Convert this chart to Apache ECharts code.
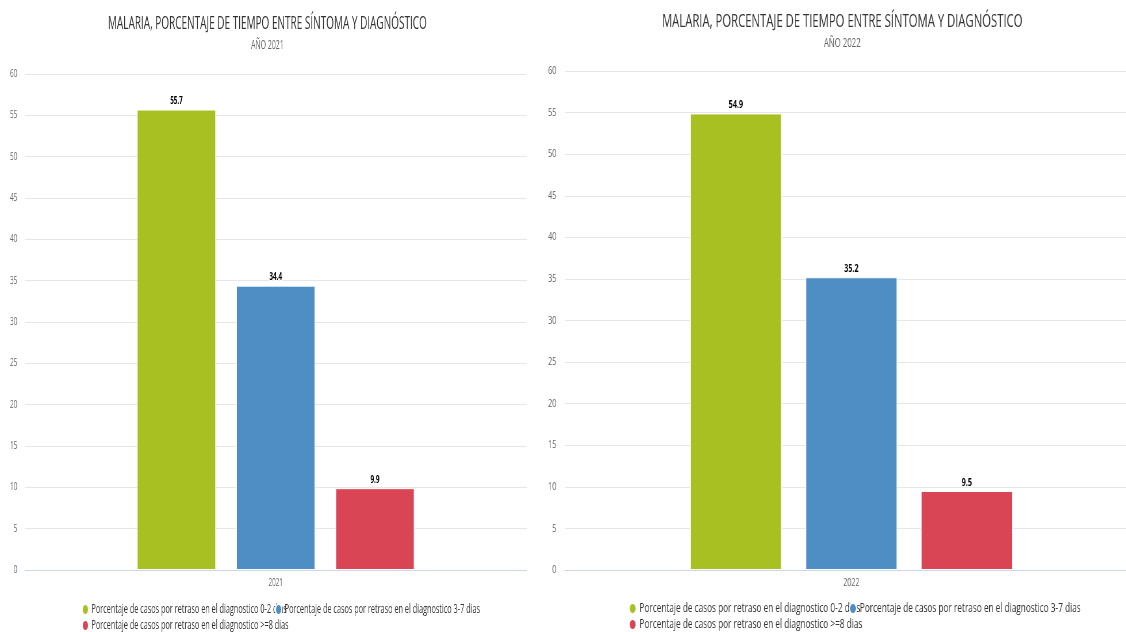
<!DOCTYPE html>
<html lang="es">
<head>
<meta charset="utf-8">
<title>Malaria, porcentaje de tiempo entre síntoma y diagnóstico</title>
<script src="https://cdn.jsdelivr.net/npm/echarts@6/dist/echarts.min.js"></script>
<style>
  html, body { margin: 0; padding: 0; background: #ffffff; }
  body { width: 1126px; height: 632px; overflow: hidden; position: relative; }
  .panel { position: absolute; top: 0; width: 930px; height: 632px; transform-origin: 0 0; }
  #chart2021 { left: 0; transform: scaleX(0.575); }
  #chart2022 { left: 540px; transform: scaleX(0.65); }
</style>
</head>
<body>
<div id="chart2021" class="panel"></div>
<div id="chart2022" class="panel"></div>
<script>
// Data
const chartTitle = 'MALARIA, PORCENTAJE DE TIEMPO ENTRE SÍNTOMA Y DIAGNÓSTICO';
const seriesNames = [
  'Porcentaje de casos por retraso en el diagnostico 0-2 dias',
  'Porcentaje de casos por retraso en el diagnostico 3-7 dias',
  'Porcentaje de casos por retraso en el diagnostico >=8 dias'
];
const seriesColors = ['#a9c023', '#4f8dc5', '#d94555'];
const years = ['2021', '2022'];
const values2021 = [55.7, 34.4, 9.9];
const values2022 = [54.9, 35.2, 9.5];
const yMin = 0;
const yMax = 60;
const yStep = 5;

const FONT = '"Open Sans", "DejaVu Sans", sans-serif';

function buildOption(year, values, L) {
  const legendSpots = [
    { left: L.legendLeft1, top: L.legendTop1 },
    { left: L.legendLeft2, top: L.legendTop1 },
    { left: L.legendLeft1, top: L.legendTop2 }
  ];
  return {
    animation: false,
    backgroundColor: '#ffffff',
    textStyle: { fontFamily: FONT },
    title: [
      {
        text: chartTitle,
        left: 'center',
        top: L.titleTop,
        textStyle: { fontFamily: FONT, fontSize: 17.4, fontWeight: 'normal', color: '#333333' }
      },
      {
        text: 'AÑO ' + year,
        left: 'center',
        top: L.subTop,
        textStyle: { fontFamily: FONT, fontSize: 12, fontWeight: 'normal', color: '#666666' }
      }
    ],
    legend: seriesNames.map((name, i) => ({
      data: [name],
      left: legendSpots[i].left,
      top: legendSpots[i].top,
      orient: 'horizontal',
      icon: 'circle',
      itemWidth: 11,
      itemHeight: 11,
      padding: 0,
      selectedMode: false,
      textStyle: { fontFamily: FONT, fontSize: 12.7, color: '#333333' }
    })),
    grid: {
      left: L.gridLeft,
      right: L.gridRight,
      top: L.gridTop,
      bottom: 632 - L.gridBottomY,
      containLabel: false
    },
    xAxis: {
      type: 'category',
      data: [year],
      axisLine: { show: true, lineStyle: { color: '#ccd6eb', width: 1 } },
      axisTick: { show: false },
      axisLabel: { margin: 7, fontFamily: FONT, fontSize: 11, color: '#666666' },
      splitLine: { show: false }
    },
    yAxis: {
      type: 'value',
      min: yMin,
      max: yMax,
      interval: yStep,
      axisLine: { show: false },
      axisTick: { show: false },
      axisLabel: { margin: 13, fontFamily: FONT, fontSize: 11, color: '#666666' },
      splitLine: { lineStyle: { color: '#e6e6e6', width: 1 } }
    },
    series: seriesNames.map((name, i) => ({
      name: name,
      type: 'bar',
      data: [values[i]],
      barWidth: L.barWidth,
      barGap: L.barGap,
      itemStyle: { color: seriesColors[i], borderColor: '#ffffff', borderWidth: 1 },
      label: {
        show: true,
        position: 'top',
        distance: 3,
        fontFamily: FONT,
        fontSize: 11,
        fontWeight: 'bold',
        color: '#000000',
        textBorderColor: '#ffffff',
        textBorderWidth: 2,
        formatter: (p) => p.value.toFixed(1)
      }
    }))
  };
}

const layout2021 = {
  titleTop: 11, subTop: 35,
  gridLeft: 43, gridRight: 14, gridTop: 74, gridBottomY: 570,
  barWidth: 137, barGap: '26%',
  legendLeft1: 142, legendLeft2: 478, legendTop1: 603, legendTop2: 619
};
const layout2022 = {
  titleTop: 9, subTop: 33,
  gridLeft: 38, gridRight: 10, gridTop: 71, gridBottomY: 570,
  barWidth: 141, barGap: '26%',
  legendLeft1: 136, legendLeft2: 475, legendTop1: 602, legendTop2: 618
};

const c1 = echarts.init(document.getElementById('chart2021'), null, { renderer: 'canvas' });
c1.setOption(buildOption(years[0], values2021, layout2021));
const c2 = echarts.init(document.getElementById('chart2022'), null, { renderer: 'canvas' });
c2.setOption(buildOption(years[1], values2022, layout2022));
</script>
</body>
</html>
